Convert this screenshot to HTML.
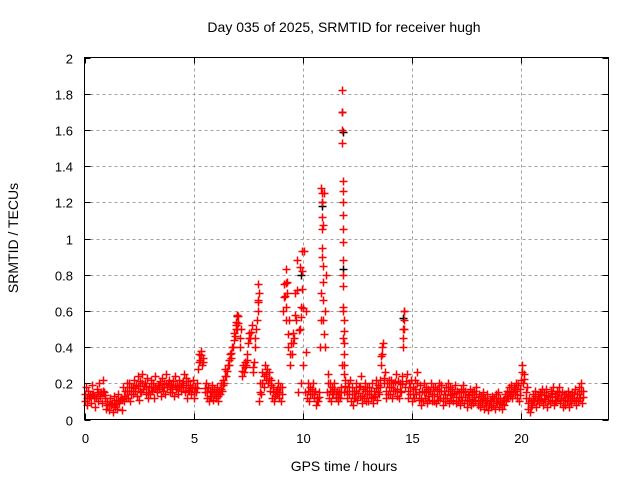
<!DOCTYPE html>
<html><head><meta charset="utf-8"><style>
body{margin:0;background:#fff}
svg{display:block;font-family:"Liberation Sans",sans-serif}
</style></head><body>
<svg id="chart" width="640" height="480" viewBox="0 0 640 480">
<rect width="640" height="480" fill="#fff"/>
<text x="344" y="32" font-size="14" text-anchor="middle">Day 035 of 2025, SRMTID for receiver hugh</text>
<g id="grid"></g>
<g id="axes"></g>
<g id="marks"></g>
<rect x="84.5" y="57.5" width="524" height="362" fill="none" stroke="#000" stroke-width="1"/>
<text transform="translate(18,238) rotate(-90)" font-size="14" text-anchor="middle">SRMTID / TECUs</text>
<text x="344" y="471" font-size="14" text-anchor="middle">GPS time / hours</text>
</svg>
<script>
const xTicks=[0,5,10,15,20];
const yTicks=[0,0.2,0.4,0.6,0.8,1,1.2,1.4,1.6,1.8,2];
const yTickLabels=["0","0.2","0.4","0.6","0.8","1","1.2","1.4","1.6","1.8","2"];
const seriesA=[
.10,.08,.12,.09,.14,.07,.10,.13,.09,.15,
.06,.05,.08,.04,.07,.06,.09,.05,.10,.12,
.12,.10,.14,.16,.13,.11,.15,.17,.14,.12,
.14,.16,.12,.15,.17,.13,.16,.14,.18,.15,
.15,.13,.17,.14,.16,.18,.15,.12,.16,.14,
.12,.15,.28,.33,.30,.15,.12,.10,.13,.11,
.12,.10,.14,.16,.20,.24,.30,.34,.40,.46,
.50,.40,.24,.26,.30,.42,.45,.26,.40,.55,
.10,.14,.18,.22,.20,.16,.12,.10,.14,.12,
.10,.60,.68,.40,.30,.36,.45,.55,.15,.20,
.30,.15,.12,.10,.14,.12,.08,.10,.40,.90,
.40,.15,.12,.10,.14,.12,.10,.12,.30,.15,
.12,.14,.10,.08,.12,.11,.13,.09,.12,.10,
.10,.12,.09,.13,.11,.14,.30,.20,.12,.14,
.14,.12,.16,.13,.12,.15,.40,.18,.12,.14,
.10,.12,.14,.11,.08,.10,.12,.09,.11,.10,
.10,.09,.11,.12,.08,.10,.12,.09,.11,.10,
.09,.10,.08,.11,.09,.07,.10,.08,.09,.10,
.08,.07,.09,.06,.08,.05,.07,.08,.06,.09,
.07,.06,.08,.10,.12,.13,.12,.14,.12,.10,
.22,.20,.12,.06,.04,.08,.10,.07,.09,.11,
.08,.10,.07,.09,.11,.08,.10,.12,.09,.07,
.08,.10,.07,.09,.11,.08,.10,.12,.09];
const seriesB=[
.18,.16,.14,.19,.12,.17,.20,.15,.22,.12,
.10,.12,.09,.13,.11,.14,.12,.18,.16,.20,
.20,.18,.22,.19,.24,.21,.25,.20,.23,.18,
.22,.20,.24,.19,.21,.23,.20,.25,.22,.19,
.21,.24,.19,.22,.20,.25,.23,.21,.19,.22,
.18,.20,.36,.38,.34,.20,.18,.16,.19,.17,
.18,.16,.20,.22,.28,.30,.36,.40,.48,.54,
.57,.50,.30,.32,.36,.48,.52,.32,.50,.75,
.20,.26,.30,.28,.26,.22,.18,.16,.20,.18,
.18,.75,.83,.55,.42,.48,.70,.88,.84,.93,
.93,.60,.20,.18,.20,.16,.12,.15,.70,1.25,
.80,.25,.20,.18,.20,.16,.15,.18,.60,.22,
.20,.22,.18,.16,.20,.18,.24,.17,.20,.18,
.18,.20,.16,.22,.19,.22,.42,.26,.20,.22,
.22,.20,.25,.21,.20,.24,.60,.25,.20,.22,
.18,.22,.26,.19,.16,.20,.18,.17,.20,.18,
.18,.17,.20,.19,.16,.18,.20,.18,.17,.19,
.16,.15,.17,.19,.16,.14,.17,.15,.16,.18,
.14,.13,.15,.12,.14,.11,.13,.12,.14,.15,
.12,.11,.14,.16,.18,.19,.18,.20,.19,.17,
.30,.25,.18,.12,.10,.14,.16,.13,.15,.17,
.15,.17,.13,.16,.18,.14,.16,.18,.15,.14,
.14,.16,.13,.15,.17,.14,.18,.20,.16];
const spikeHours=[10.85,10.86,10.87,10.88,10.89,10.9,10.91,10.92,10.93,10.94,10.95,
11.8,11.8,11.81,11.81,11.82,11.82,11.83,11.83,11.84,11.84,11.85,11.85,11.86,11.86,11.87,11.87,11.88,11.88,11.89,11.9,
9.22,9.24,9.26,9.28,9.85,9.9,9.95,9.98,7.93,7.95,7.97,14.58,14.6,14.62,14.64,13.58,13.62,6.95,7.0];
const spikeValues=[1.28,1.25,1.20,1.12,1.05,0.95,0.85,0.76,0.66,0.55,0.47,
1.82,1.70,1.60,1.53,1.32,1.26,1.20,1.13,1.05,0.98,0.88,0.80,0.74,0.62,0.55,0.49,0.42,0.36,0.30,0.25,
0.55,0.62,0.70,0.76,0.50,0.62,0.72,0.82,0.60,0.66,0.70,0.45,0.50,0.55,0.60,0.35,0.40,0.52,0.58];
const blackHours=[11.8,11.82,11.84,10.88,10.9,9.92,14.6,7.0];
const blackValues=[1.70,1.59,0.83,1.20,1.18,0.80,0.56,0.57];

const X0=84.5,X1=608.5,Y0=419.5,Y1=57.5;
const xs=h=>X0+(h/24)*(X1-X0);
const ys=v=>Y0-(v/2)*(Y0-Y1);
const NS="http://www.w3.org/2000/svg";
const grid=document.getElementById('grid'),axes=document.getElementById('axes'),marks=document.getElementById('marks');
function mk(tag,attrs,parent){const e=document.createElementNS(NS,tag);for(const k in attrs)e.setAttribute(k,attrs[k]);parent.appendChild(e);return e;}
yTicks.forEach((v,i)=>{
  const y=Math.round(ys(v))+0.5;
  if(i>0&&i<yTicks.length-1){const g=mk('line',{x1:X0,x2:X1,y1:y,y2:y,stroke:'#a0a0a0','stroke-dasharray':'3,3'},grid);
  
  }
  const t=mk('line',{x1:X0,x2:X0+6,y1:y,y2:y,stroke:'#000'},axes);
  
  
  const t2=mk('line',{x1:X1-6,x2:X1,y1:y,y2:y,stroke:'#000'},axes);
  
  
  const l=mk('text',{x:73,y:y+5,'font-size':13,'text-anchor':'end'},axes);l.textContent=yTickLabels[i];
  
  
});
xTicks.forEach(h=>{
  const x=Math.round(xs(h))+0.5;
  if(h>0){const g=mk('line',{x1:x,x2:x,y1:Y0,y2:Y1,stroke:'#a0a0a0','stroke-dasharray':'3,3'},grid);
  
  }
  const t=mk('line',{x1:x,x2:x,y1:Y0,y2:Y0-6,stroke:'#000'},axes);
  
  
  const t2=mk('line',{x1:x,x2:x,y1:Y1,y2:Y1+6,stroke:'#000'},axes);
  
  
  const l=mk('text',{x:x,y:443,'font-size':13,'text-anchor':'middle'},axes);l.textContent=String(h);
  
  
});
function cross(h,v,color,name){
  const x=Math.round(xs(h))+0.5,y=Math.round(ys(v))+0.5;
  const p=mk('path',{d:`M${x-4} ${y}H${x+4}M${x} ${y-4}V${y+4}`,stroke:color,'stroke-width':1.5,fill:'none'},marks);
  
  
}
blackValues.forEach((v,i)=>cross(blackHours[i],v,'#000','black-point'));
seriesA.forEach((v,i)=>cross(i*0.1,v,'#ff0000','srmtid-point'));
seriesB.forEach((v,i)=>cross(i*0.1+0.05,v,'#ff0000','srmtid-point'));
seriesA.forEach((v,i)=>cross(i*0.1+0.03,(v+seriesB[i])/2,'#ff0000','srmtid-point'));
spikeValues.forEach((v,i)=>cross(spikeHours[i],v,'#ff0000','srmtid-spike-point'));
</script>
</body></html>
